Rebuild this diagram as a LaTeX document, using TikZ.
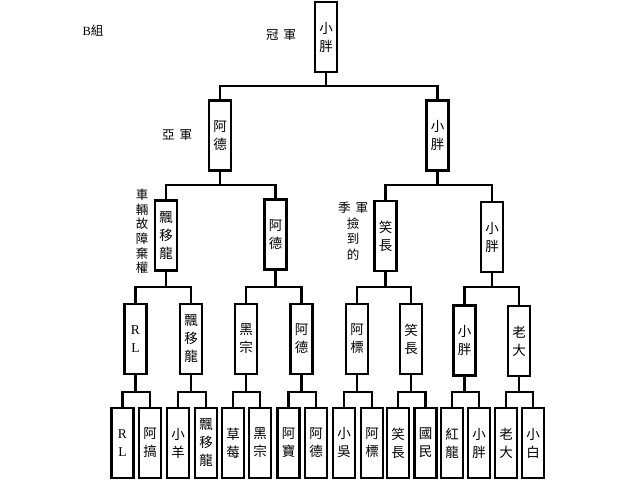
\documentclass[tikz,border=0pt]{standalone}
\usepackage{fontspec}
\setmainfont{Liberation Serif}
\newfontfamily\cjk{Noto Sans CJK TC}
\begin{document}
\begin{tikzpicture}[x=1pt,y=-1pt,
  box/.style={draw, line width=2.6pt, minimum width=22pt, minimum height=70pt,
    inner sep=0pt, align=center, font=\cjk\fontsize{13.5}{18}\selectfont},
  lbl/.style={inner sep=0pt, align=center, font=\cjk\fontsize{12.5}{15}\selectfont},
  con/.style={line width=2.6pt, line join=miter}]
\useasboundingbox (0,0) rectangle (640,480);
% level 1
\node[box] (t) at (326,37) {小\\胖};
% level 2
\node[box] (a1) at (220,135.5) {阿\\德};
\node[box] (a2) at (437.5,135.5) {小\\胖};
% level 3
\node[box] (b1) at (166,235.5) {飄\\移\\龍};
\node[box] (b2) at (275.5,234.5) {阿\\德};
\node[box] (b3) at (385.5,236) {笑\\長};
\node[box] (b4) at (492,237) {小\\胖};
% level 4
\node[box] (c1) at (135.5,339) {\fontspec{Liberation Serif}R\\\fontspec{Liberation Serif}L};
\node[box] (c2) at (191,339) {飄\\移\\龍};
\node[box] (c3) at (246,339) {黑\\宗};
\node[box] (c4) at (301.5,339) {阿\\德};
\node[box] (c5) at (357,339) {阿\\標};
\node[box] (c6) at (411,339) {笑\\長};
\node[box] (c7) at (464.5,340.5) {小\\胖};
\node[box] (c8) at (519,341) {老\\大};
% level 5
\node[box] (d1) at (122.5,443) {\fontspec{Liberation Serif}R\\\fontspec{Liberation Serif}L};
\node[box] (d2) at (150,443) {阿\\搞};
\node[box] (d3) at (178,443) {小\\羊};
\node[box] (d4) at (206,443) {飄\\移\\龍};
\node[box] (d5) at (233,443) {草\\莓};
\node[box] (d6) at (260,443) {黑\\宗};
\node[box] (d7) at (288.5,443) {阿\\寶};
\node[box] (d8) at (316,443) {阿\\德};
\node[box] (d9) at (344,443) {小\\吳};
\node[box] (d10) at (372,443) {阿\\標};
\node[box] (d11) at (398,443) {笑\\長};
\node[box] (d12) at (425.5,443) {國\\民};
\node[box] (d13) at (452,443) {紅\\龍};
\node[box] (d14) at (479,443) {小\\胖};
\node[box] (d15) at (506,443) {老\\大};
\node[box] (d16) at (533,443) {小\\白};
% horizontal levels
\coordinate (h1) at (0,86);
\coordinate (h2) at (0,185);
\coordinate (h3) at (0,287);
\coordinate (h4) at (0,392);
% connectors
\draw[con] (t.south) -- (t.south |- h1);
\draw[con] (a1.north) -- (a1.north |- h1) -- (a2.north |- h1) -- (a2.north);
\draw[con] (a1.south) -- (a1.south |- h2);
\draw[con] (b1.north) -- (b1.north |- h2) -- (b2.north |- h2) -- (b2.north);
\draw[con] (a2.south) -- (a2.south |- h2);
\draw[con] (b3.north) -- (b3.north |- h2) -- (b4.north |- h2) -- (b4.north);
\foreach \p/\l/\r in {b1/c1/c2, b2/c3/c4, b3/c5/c6, b4/c7/c8}{
  \draw[con] (\p.south) -- (\p.south |- h3);
  \draw[con] (\l.north) -- (\l.north |- h3) -- (\r.north |- h3) -- (\r.north);
}
\foreach \p/\l/\r in {c1/d1/d2, c2/d3/d4, c3/d5/d6, c4/d7/d8, c5/d9/d10, c6/d11/d12, c7/d13/d14, c8/d15/d16}{
  \draw[con] (\p.south) -- (\p.south |- h4);
  \draw[con] (\l.north) -- (\l.north |- h4) -- (\r.north |- h4) -- (\r.north);
}
% labels
\node[lbl] (lb) at (93,31) {\fontspec{Liberation Serif}B\cjk 組};
\node[lbl] (l1) at (281,35) {冠\hspace{5pt}軍};
\node[lbl] (l2) at (177,135) {亞\hspace{5pt}軍};
\node[lbl, font=\cjk\fontsize{12.5}{14.6}\selectfont] (l3) at (142,231.5) {車\\輛\\故\\障\\棄\\權};
\node[lbl] (l4) at (353,208) {季\hspace{5pt}軍};
\node[lbl, font=\cjk\fontsize{12.5}{15.5}\selectfont] (l5) at (353,239) {撿\\到\\的};
\end{tikzpicture}
\end{document}
